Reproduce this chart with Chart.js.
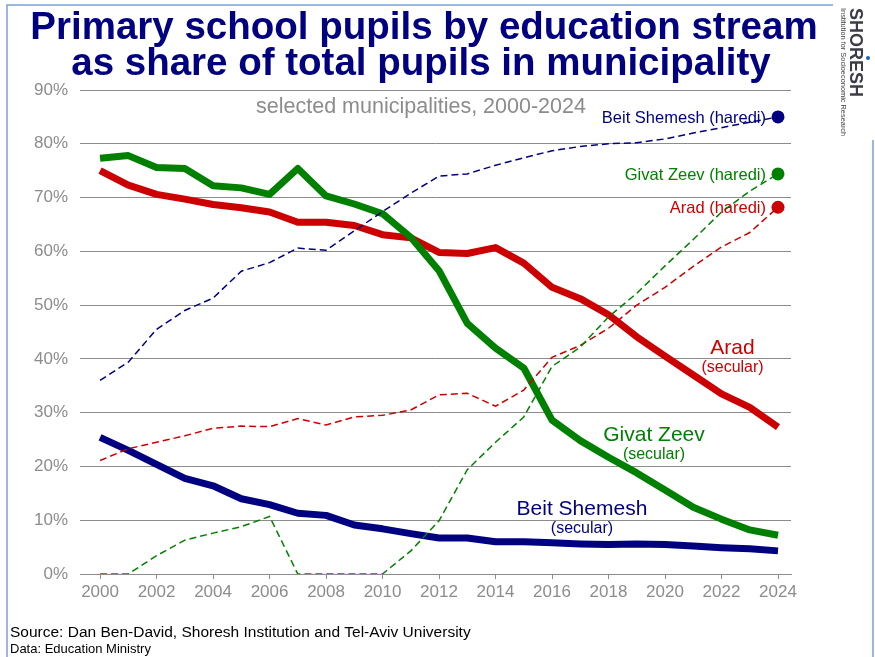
<!DOCTYPE html>
<html>
<head>
<meta charset="utf-8">
<title>Primary school pupils by education stream</title>
<script src="https://cdn.jsdelivr.net/npm/chart.js@4.4.1/dist/chart.umd.min.js"></script>
<style>
    html, body { margin: 0; padding: 0; background: #fff; }
    canvas { display: block; }
</style>
</head>
<body>
<canvas id="pupilsChart" width="875" height="657"></canvas>
<script>
// Years on the horizontal axis and the ones that get a label
const years = [2000, 2001, 2002, 2003, 2004, 2005, 2006, 2007, 2008, 2009, 2010, 2011, 2012,
    2013, 2014, 2015, 2016, 2017, 2018, 2019, 2020, 2021, 2022, 2023, 2024];
const tickYears = [2000, 2002, 2004, 2006, 2008, 2010, 2012, 2014, 2016, 2018, 2020, 2022, 2024];
const percentTicks = [0, 10, 20, 30, 40, 50, 60, 70, 80, 90];

// Secular stream, % of all primary pupils in the municipality
const beitShemeshSecular = [25.4, 23.0, 20.4, 17.8, 16.4, 14.0, 12.9, 11.3, 10.9, 9.1, 8.4, 7.5, 6.7,
    6.7, 6.0, 6.0, 5.8, 5.6, 5.5, 5.6, 5.5, 5.2, 4.9, 4.7, 4.3];
const givatZeevSecular = [77.3, 77.8, 75.6, 75.4, 72.2, 71.8, 70.6, 75.4, 70.3, 68.8, 67.0, 62.6, 56.4,
    46.6, 42.0, 38.3, 28.6, 24.8, 21.7, 18.8, 15.6, 12.4, 10.2, 8.2, 7.2];
const aradSecular = [75.0, 72.3, 70.6, 69.7, 68.7, 68.1, 67.3, 65.4, 65.4, 64.8, 63.1, 62.5, 59.8,
    59.6, 60.7, 57.8, 53.3, 51.2, 48.2, 44.1, 40.5, 37.0, 33.5, 31.0, 27.3];

// Haredi stream
const beitShemeshHaredi = [36.0, 39.4, 45.5, 49.0, 51.3, 56.3, 57.9, 60.6, 60.2, 63.8, 67.4, 70.8, 74.0,
    74.4, 76.0, 77.4, 78.7, 79.5, 80.0, 80.2, 80.9, 82.0, 83.0, 84.0, 85.0];
const givatZeevHaredi = [0, 0, 3.4, 6.3, 7.6, 8.8, 10.7, 0, 0, 0, 0, 4.3, 9.9,
    19.4, 24.5, 29.2, 38.6, 42.2, 47.8, 52.2, 57.3, 62.2, 67.3, 71.2, 74.4];
const aradHaredi = [21.1, 23.3, 24.5, 25.7, 27.1, 27.5, 27.4, 28.9, 27.7, 29.2, 29.5, 30.5, 33.3,
    33.6, 31.2, 34.2, 40.3, 42.5, 45.7, 50.0, 53.3, 57.2, 60.8, 63.5, 68.2];

const NAVY = '#000080';
const GREEN = '#008000';
const RED = '#cc0000';
const GRAY = '#8c8c8c';
const FONT = "'Liberation Sans', Arial, sans-serif";

function toPoints(values) {
    return values.map((v, i) => ({ x: years[i], y: v }));
}

// dot only on the last year of the haredi lines
function endDot(ctx) {
    return ctx.dataIndex === years.length - 1 ? 6.5 : 0;
}

function dashedSeries(label, values, color) {
    return {
        label: label,
        data: toPoints(values),
        borderColor: color,
        backgroundColor: color,
        borderWidth: 1.5,
        borderDash: [7, 4],
        pointRadius: endDot,
        pointBorderWidth: 0,
        pointBackgroundColor: color,
        tension: 0
    };
}

function solidSeries(label, values, color) {
    return {
        label: label,
        data: toPoints(values),
        borderColor: color,
        backgroundColor: color,
        borderWidth: 7,
        borderJoinStyle: 'round',
        pointRadius: 0,
        tension: 0
    };
}

// Titles, line labels, source and logo
const textPlugin = {
    id: 'chartText',
    beforeDraw(chart) {
        const ctx = chart.ctx;
        ctx.save();
        ctx.fillStyle = '#fff';
        ctx.fillRect(0, 0, chart.width, chart.height);

        // slide frame
        ctx.strokeStyle = '#7ea1d6';
        ctx.lineWidth = 1.5;
        ctx.beginPath();
        ctx.moveTo(7, 657);
        ctx.lineTo(7, 5);
        ctx.lineTo(833, 5);
        ctx.moveTo(873, 140);
        ctx.lineTo(873, 657);
        ctx.stroke();
        ctx.restore();
    },
    afterDraw(chart) {
        const ctx = chart.ctx;
        const x = chart.scales.x;
        const y = chart.scales.y;
        const last = years.length - 1;
        ctx.save();

        ctx.fillStyle = NAVY;
        ctx.textAlign = 'center';
        ctx.textBaseline = 'alphabetic';
        ctx.font = 'bold 38.5px ' + FONT;
        ctx.fillText('Primary school pupils by education stream', 424, 39);
        ctx.fillText('as share of total pupils in municipality', 421, 75);

        ctx.fillStyle = GRAY;
        ctx.font = '21.5px ' + FONT;
        ctx.fillText('selected municipalities, 2000-2024', 421, 113);

        // haredi labels sit left of the end dots
        ctx.textAlign = 'right';
        ctx.font = '16.5px ' + FONT;
        const xEnd = x.getPixelForValue(years[last]) - 12;
        [['Beit Shemesh (haredi)', beitShemeshHaredi, NAVY],
         ['Givat Zeev (haredi)', givatZeevHaredi, GREEN],
         ['Arad (haredi)', aradHaredi, RED]].forEach(([text, values, color]) => {
            ctx.fillStyle = color;
            ctx.fillText(text, xEnd, y.getPixelForValue(values[last]) + 6);
        });

        // secular labels
        ctx.textAlign = 'center';
        [['Arad', 2022.39, 40.9, RED],
         ['Givat Zeev', 2019.61, 24.73, GREEN],
         ['Beit Shemesh', 2017.06, 10.97, NAVY]].forEach(([text, year, pct, color]) => {
            const px = x.getPixelForValue(year);
            const py = y.getPixelForValue(pct);
            ctx.fillStyle = color;
            ctx.font = '21px ' + FONT;
            ctx.fillText(text, px, py);
            ctx.font = '16px ' + FONT;
            ctx.fillText('(secular)', px, py + 18);
        });

        // source
        ctx.textAlign = 'left';
        ctx.fillStyle = '#000';
        ctx.font = '15.5px ' + FONT;
        ctx.fillText('Source: Dan Ben-David, Shoresh Institution and Tel-Aviv University', 10, 637);
        ctx.font = '13px ' + FONT;
        ctx.fillText('Data: Education Ministry', 10, 653);

        // logo, written top to bottom
        ctx.fillStyle = '#3c3c46';
        ctx.save();
        ctx.translate(850, 8);
        ctx.rotate(Math.PI / 2);
        ctx.font = 'bold 18px ' + FONT;
        ctx.fillText('SHORESH', 0, 0);
        ctx.restore();
        ctx.save();
        ctx.translate(841, 8);
        ctx.rotate(Math.PI / 2);
        ctx.font = '7.4px ' + FONT;
        ctx.fillText('Institution for Socioeconomic Research', 0, 0);
        ctx.restore();
        ctx.fillStyle = '#1f5fbf';
        ctx.beginPath();
        ctx.arc(868, 58, 2, 0, Math.PI * 2);
        ctx.fill();

        ctx.restore();
    }
};

const ctx = document.getElementById('pupilsChart').getContext('2d');
const pupilsChart = new Chart(ctx, {
    type: 'line',
    data: {
        datasets: [
            dashedSeries('Beit Shemesh (haredi)', beitShemeshHaredi, NAVY),
            dashedSeries('Givat Zeev (haredi)', givatZeevHaredi, GREEN),
            dashedSeries('Arad (haredi)', aradHaredi, RED),
            solidSeries('Givat Zeev (secular)', givatZeevSecular, GREEN),
            solidSeries('Arad (secular)', aradSecular, RED),
            solidSeries('Beit Shemesh (secular)', beitShemeshSecular, NAVY)
        ]
    },
    options: {
        responsive: false,
        animation: false,
        layout: {
            padding: { top: 90, left: 0, right: 84, bottom: 53 }
        },
        plugins: {
            legend: { display: false },
            tooltip: { enabled: false },
            title: { display: false }
        },
        scales: {
            x: {
                type: 'linear',
                min: 1999.29,
                max: 2024.46,
                afterBuildTicks(scale) {
                    scale.ticks = tickYears.map(v => ({ value: v }));
                },
                afterFit(scale) {
                    scale.height = 30;
                },
                ticks: {
                    color: GRAY,
                    font: { family: FONT, size: 17 },
                    padding: 3,
                    maxRotation: 0,
                    autoSkip: false,
                    callback: v => String(v)
                },
                grid: {
                    drawOnChartArea: false,
                    drawTicks: true,
                    tickLength: 5,
                    color: GRAY
                },
                border: { display: true, color: GRAY, width: 1 }
            },
            y: {
                min: 0,
                max: 90,
                afterBuildTicks(scale) {
                    scale.ticks = percentTicks.map(v => ({ value: v }));
                },
                afterFit(scale) {
                    scale.width = 80;
                },
                ticks: {
                    color: GRAY,
                    font: { family: FONT, size: 17 },
                    padding: 12,
                    callback: v => v + '%'
                },
                grid: {
                    color: GRAY,
                    drawTicks: false
                },
                border: { display: false }
            }
        }
    },
    plugins: [textPlugin]
});
</script>
</body>
</html>
